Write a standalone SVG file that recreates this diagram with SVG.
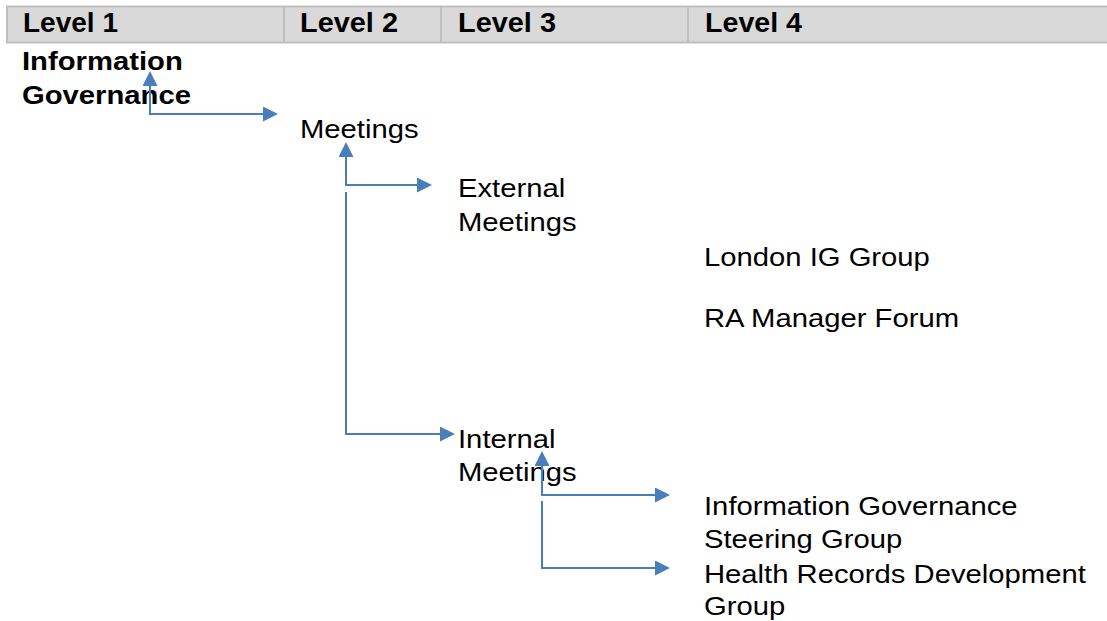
<svg xmlns="http://www.w3.org/2000/svg" width="1107" height="621" viewBox="0 0 1107 621">
  <style>
    .hdr { fill: #d9d9d9; stroke: #bfbfbf; stroke-width: 2; }
    .div { stroke: #bfbfbf; stroke-width: 2; }
    text { font-family: "Liberation Sans", Arial, sans-serif; font-size: 25px; fill: #000; }
    .b { font-weight: bold; }
    .hd { font-weight: bold; font-size: 27px; }
    .conn { fill: none; stroke: #4a7ebb; stroke-width: 2; }
  </style>
  <defs>
    <marker id="arrow" markerUnits="userSpaceOnUse" markerWidth="15" markerHeight="15" refX="0" refY="7.5" orient="auto-start-reverse">
      <path d="M0,0 L15,7.5 L0,15 z" fill="#4a7ebb"/>
    </marker>
  </defs>

  <!-- column header band -->
  <g id="header">
    <rect class="hdr" x="7" y="6.5" width="1110" height="36"/>
    <line class="div" x1="284" y1="6.5" x2="284" y2="42.5"/>
    <line class="div" x1="441" y1="6.5" x2="441" y2="42.5"/>
    <line class="div" x1="688" y1="6.5" x2="688" y2="42.5"/>
    <text class="hd" x="23" y="32" textLength="95" lengthAdjust="spacingAndGlyphs">Level 1</text>
    <text class="hd" x="300" y="32" textLength="98" lengthAdjust="spacingAndGlyphs">Level 2</text>
    <text class="hd" x="458" y="32" textLength="98" lengthAdjust="spacingAndGlyphs">Level 3</text>
    <text class="hd" x="705" y="32" textLength="97" lengthAdjust="spacingAndGlyphs">Level 4</text>
  </g>

  <!-- hierarchy nodes (text is set slightly wide) -->
  <g id="n-ig" transform="translate(22 0) scale(1.17 1)">
    <text class="b" x="0" y="70">Information</text>
    <text class="b" x="0" y="104">Governance</text>
  </g>
  <g id="n-meetings" transform="translate(300 0) scale(1.17 1)">
    <text x="0" y="138">Meetings</text>
  </g>
  <g id="n-external" transform="translate(458 0) scale(1.17 1)">
    <text x="0" y="197">External</text>
    <text x="0" y="231">Meetings</text>
  </g>
  <g id="n-london" transform="translate(704 0) scale(1.17 1)">
    <text x="0" y="266">London IG Group</text>
  </g>
  <g id="n-ra" transform="translate(704 0) scale(1.17 1)">
    <text x="0" y="327">RA Manager Forum</text>
  </g>
  <g id="n-internal" transform="translate(458 0) scale(1.17 1)">
    <text x="0" y="448">Internal</text>
    <text x="0" y="481">Meetings</text>
  </g>
  <g id="n-igsg" transform="translate(704 0) scale(1.17 1)">
    <text x="0" y="515">Information Governance</text>
    <text x="0" y="548">Steering Group</text>
  </g>
  <g id="n-hrdg" transform="translate(704 0) scale(1.17 1)">
    <text x="0" y="583">Health Records Development</text>
    <text x="0" y="615">Group</text>
  </g>

  <!-- elbow connectors -->
  <g id="connectors">
    <path class="conn" d="M150,86 V114 H263" marker-start="url(#arrow)" marker-end="url(#arrow)"/>
    <path class="conn" d="M346,157 V185 H417" marker-start="url(#arrow)" marker-end="url(#arrow)"/>
    <path class="conn" d="M346,192 V434 H440" marker-end="url(#arrow)"/>
    <path class="conn" d="M542,466 V495 H655" marker-start="url(#arrow)" marker-end="url(#arrow)"/>
    <path class="conn" d="M542,501 V568 H655" marker-end="url(#arrow)"/>
  </g>
</svg>
